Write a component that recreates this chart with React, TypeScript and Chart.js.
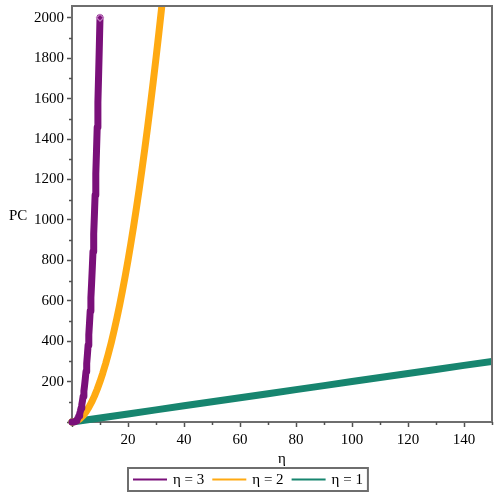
import { useEffect, useRef } from 'react';
import { Chart, registerables } from 'chart.js';

Chart.register(...registerables);

// η = 3 curve
const xEta3 = [0, 0.25, 0.5, 0.75, 1, 1.25, 1.5, 1.75, 2, 2.25, 2.5, 2.75, 3, 3.25, 3.5, 3.75, 4, 4.25, 4.5, 4.75, 5, 5.25, 5.5, 5.75, 6, 6.25, 6.5, 6.75, 7, 7.25, 7.5, 7.75, 8, 8.25, 8.5, 8.75, 9, 9.25, 9.5, 9.75, 10];
const yEta3 = [0, 0.03, 0.25, 0.84, 2, 3.9, 6.75, 10.7, 16, 22.8, 31.3, 41.6, 54, 68.7, 85.8, 105.5, 128, 153.5, 182.3, 214.3, 250, 289.4, 332.8, 380.2, 432, 488.3, 549.3, 615.1, 686, 762.2, 843.8, 931, 1024, 1123, 1228.3, 1339.8, 1458, 1582.9, 1714.8, 1853.7, 2000];
// η = 2 curve
const xEta2 = [0, 1, 2, 3, 4, 5, 6, 7, 8, 9, 10, 11, 12, 13, 14, 15, 16, 17, 18, 19, 20, 21, 22, 23, 24, 25, 26, 27, 28, 29, 30, 31, 32, 33];
const yEta2 = [0, 2, 8, 18, 32, 50, 72, 98, 128, 162, 200, 242, 288, 338, 392, 450, 512, 578, 648, 722, 800, 882, 968, 1058, 1152, 1250, 1352, 1458, 1568, 1682, 1800, 1922, 2048, 2178];
// η = 1 curve
const xEta1 = [0, 10, 20, 30, 40, 50, 60, 70, 80, 90, 100, 110, 120, 130, 140, 150];
const yEta1 = [0, 20, 40, 60, 80, 100, 120, 140, 160, 180, 200, 220, 240, 260, 280, 300];

const seriesLabels = ['η = 3', 'η = 2', 'η = 1'];
const xMinorTicks = [10, 30, 50, 70, 90, 110, 130, 150];
const yMinorTicks = [100, 300, 500, 700, 900, 1100, 1300, 1500, 1700, 1900];

const FONT = "'Liberation Serif', 'Times New Roman', serif";
const AXIS = '#6e6e6e';
const colors = ['#7a107a', '#ffaa12', '#17856f'];
const markerColors = ['#c37fc3', '#ffd27c', '#4cae9b'];

const zip = (xs: number[], ys: number[]) => xs.map((x, i) => ({ x, y: ys[i] }));

const decorPlugin = {
  id: 'decor',
  afterDraw(chart: any) {
    const { ctx, chartArea, scales } = chart;
    const { left, right, top, bottom } = chartArea;
    ctx.save();
    // frame top/right
    ctx.strokeStyle = AXIS;
    ctx.lineWidth = 2;
    ctx.beginPath();
    ctx.moveTo(left, top);
    ctx.lineTo(right, top);
    ctx.lineTo(right, bottom);
    ctx.stroke();
    // minor ticks
    ctx.strokeStyle = '#505050';
    ctx.lineWidth = 1.5;
    ctx.beginPath();
    xMinorTicks.forEach((v) => {
      const px = Math.round(scales.x.getPixelForValue(v)) + 0.5;
      ctx.moveTo(px, bottom);
      ctx.lineTo(px, bottom + 3);
    });
    yMinorTicks.forEach((v) => {
      const py = Math.round(scales.y.getPixelForValue(v)) + 0.5;
      ctx.moveTo(left, py);
      ctx.lineTo(left - 3, py);
    });
    ctx.stroke();
    // y title
    ctx.fillStyle = '#000';
    ctx.font = `15px ${FONT}`;
    ctx.textAlign = 'left';
    ctx.textBaseline = 'middle';
    ctx.fillText('PC', 9, (top + bottom) / 2 + 2);
    // legend
    const lineLen = 34;
    const gapLT = 6;
    const gapItem = 8;
    const pad = 5;
    const widths = seriesLabels.map((s) => ctx.measureText(s).width);
    let total = pad * 2 + gapItem * (seriesLabels.length - 1);
    widths.forEach((w) => (total += lineLen + gapLT + w));
    const bx = Math.round(248 - total / 2);
    const by = 468;
    const bh = 23;
    ctx.strokeStyle = AXIS;
    ctx.lineWidth = 2;
    ctx.strokeRect(bx, by, total, bh);
    let cx = bx + pad;
    const cy = by + bh / 2;
    seriesLabels.forEach((s, i) => {
      ctx.strokeStyle = colors[i];
      ctx.lineWidth = 2;
      ctx.beginPath();
      ctx.moveTo(cx, cy);
      ctx.lineTo(cx + lineLen, cy);
      ctx.stroke();
      cx += lineLen + gapLT;
      ctx.fillStyle = '#000';
      ctx.fillText(s, cx, cy + 1);
      cx += widths[i] + gapItem;
    });
    ctx.restore();
  },
};

export default function App() {
  const ref = useRef<HTMLCanvasElement>(null);
  useEffect(() => {
    document.body.style.margin = '0';
    const canvas = ref.current;
    if (!canvas) return;
    const series = [zip(xEta3, yEta3), zip(xEta2, yEta2), zip(xEta1, yEta1)];
    const chart = new Chart(canvas, {
      type: 'line',
      data: {
        datasets: series.map((d, i) => ({
          label: seriesLabels[i],
          data: d,
          borderColor: colors[i],
          backgroundColor: colors[i],
          borderWidth: 7,
          borderJoinStyle: 'round',
          borderCapStyle: 'round',
          pointStyle: 'rectRot',
          pointRadius: (c: any) => (i === 0 && c.dataIndex === d.length - 1 ? 3.5 : 0),
          pointBorderWidth: 1.2,
          pointBorderColor: markerColors[i],
          pointBackgroundColor: colors[i],
          fill: false,
          tension: 0,
          clip: { left: 5, top: 0, right: 0, bottom: 5 },
        })),
      },
      plugins: [decorPlugin],
      options: {
        responsive: false,
        animation: false,
        devicePixelRatio: 1,
        layout: { padding: { left: 0, top: 6, right: 8, bottom: 28 } },
        plugins: { legend: { display: false }, tooltip: { enabled: false } },
        scales: {
          x: {
            type: 'linear',
            min: 0,
            max: 150,
            afterFit: (s: any) => {
              s.height = 50;
              s.paddingLeft = 0;
              s.paddingRight = 0;
            },
            ticks: {
              stepSize: 20,
              includeBounds: false,
              maxRotation: 0,
              autoSkip: false,
              padding: 4,
              color: '#000',
              font: { family: FONT, size: 15 },
              callback: (v: any) => (v === 0 ? '' : String(v)),
            },
            grid: { drawOnChartArea: false, tickLength: 5, tickColor: '#505050', tickWidth: 1.5 },
            border: { color: AXIS, width: 2 },
            title: { display: true, text: 'η', color: '#000', font: { family: FONT, size: 15 }, padding: { top: 2, bottom: 4 } },
          },
          y: {
            type: 'linear',
            min: 0,
            max: 2058,
            afterFit: (s: any) => {
              s.width = 72;
              s.paddingTop = 0;
              s.paddingBottom = 0;
            },
            ticks: {
              stepSize: 200,
              includeBounds: false,
              autoSkip: false,
              padding: 3,
              color: '#000',
              font: { family: FONT, size: 15 },
              callback: (v: any) => (v === 0 ? '' : String(v)),
            },
            grid: { drawOnChartArea: false, tickLength: 5, tickColor: '#505050', tickWidth: 1.5 },
            border: { color: AXIS, width: 2 },
          },
        },
      },
    });
    return () => chart.destroy();
  }, []);
  return (
    <div style={{ width: 500, height: 500 }}>
      <canvas ref={ref} width={500} height={500} style={{ display: 'block' }} />
    </div>
  );
}
